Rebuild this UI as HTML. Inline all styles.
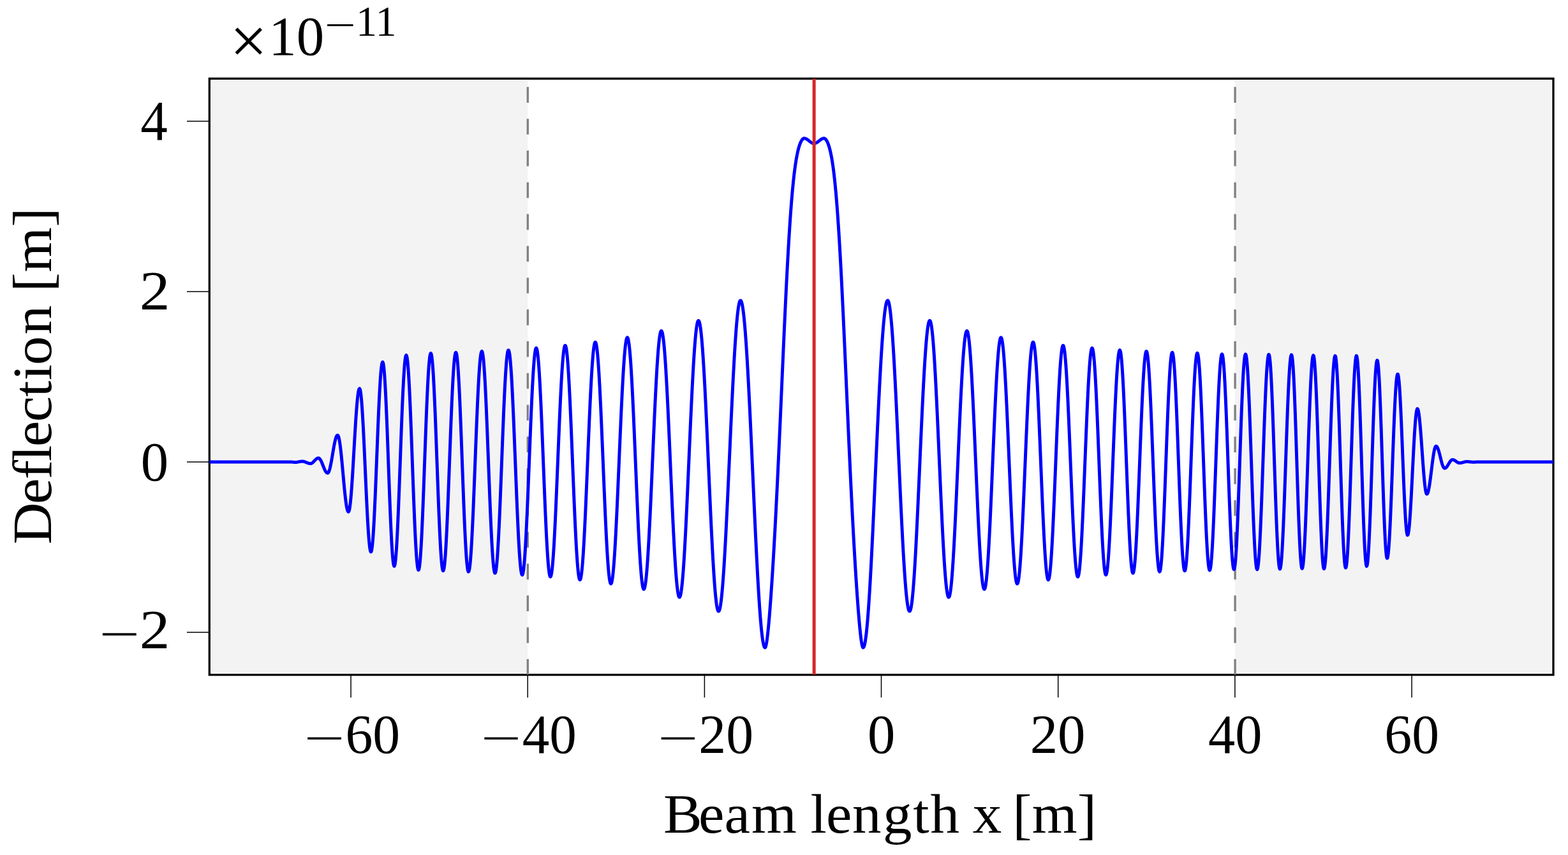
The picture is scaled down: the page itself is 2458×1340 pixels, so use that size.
<!DOCTYPE html>
<html><head><meta charset="utf-8"><title>Deflection</title>
<style>
html,body{margin:0;padding:0;background:#fff;}
body{width:2458px;height:1340px;overflow:hidden;}
svg{display:block;}
text{font-family:"Liberation Serif",serif;fill:#000;}
.nl{font-variant-ligatures:none;font-kerning:none;}
</style></head><body>
<svg width="2458" height="1340" viewBox="0 0 2458 1340">
<rect width="2458" height="1340" fill="#fff"/>
<defs><clipPath id="ax"><rect x="328.3" y="123.2" width="2106.7" height="934.4"/></clipPath></defs>
<rect x="331" y="126" width="496.2" height="929" fill="#f3f3f3"/>
<rect x="1936" y="126" width="496" height="929" fill="#f3f3f3"/>
<rect x="328.3" y="123.2" width="2106.7" height="934.4" fill="none" stroke="#000" stroke-width="3.33"/>
<path d="M550.05,1057.6 V1093.2" stroke="#000" stroke-width="1.5"/>
<path d="M827.2,1057.6 V1093.2" stroke="#000" stroke-width="1.5"/>
<path d="M1104.4,1057.6 V1093.2" stroke="#000" stroke-width="1.5"/>
<path d="M1381.5,1057.6 V1093.2" stroke="#000" stroke-width="1.5"/>
<path d="M1658.7,1057.6 V1093.2" stroke="#000" stroke-width="1.5"/>
<path d="M1935.9,1057.6 V1093.2" stroke="#000" stroke-width="1.5"/>
<path d="M2213.1,1057.6 V1093.2" stroke="#000" stroke-width="1.5"/>
<path d="M328.3,189.9 H293.0" stroke="#000" stroke-width="1.5"/>
<path d="M328.3,456.9 H293.0" stroke="#000" stroke-width="1.5"/>
<path d="M328.3,723.9 H293.0" stroke="#000" stroke-width="1.5"/>
<path d="M328.3,990.9 H293.0" stroke="#000" stroke-width="1.5"/>
<g clip-path="url(#ax)">
<path d="M827.3,1057.6 V123.2" stroke="#808080" stroke-width="3.33" stroke-dasharray="24.6 25.215" fill="none"/>
<path d="M1936.1,1057.6 V123.2" stroke="#808080" stroke-width="3.33" stroke-dasharray="24.6 25.215" fill="none"/>
<path d="M325.30,723.90 454.80,723.90 455.30,723.90 455.80,723.92 456.30,723.94 456.80,723.97 457.30,724.02 457.80,724.07 458.30,724.12 458.80,724.18 459.30,724.24 459.80,724.30 460.30,724.35 460.80,724.40 461.30,724.44 461.80,724.47 462.30,724.49 462.80,724.50 463.30,724.50 463.80,724.48 464.30,724.44 464.80,724.40 465.30,724.34 465.80,724.27 466.30,724.20 466.80,724.11 467.30,724.02 467.80,723.92 468.30,723.82 468.80,723.72 469.30,723.62 469.80,723.53 470.30,723.44 470.80,723.36 471.30,723.28 471.80,723.22 472.30,723.17 472.80,723.13 473.30,723.11 473.80,723.10 474.30,723.11 474.80,723.14 475.30,723.20 475.80,723.28 476.30,723.39 476.80,723.51 477.30,723.66 477.80,723.82 478.30,724.00 478.80,724.19 479.30,724.39 479.80,724.59 480.30,724.80 480.80,725.01 481.30,725.21 481.80,725.41 482.30,725.60 482.80,725.78 483.30,725.94 483.80,726.09 484.30,726.21 484.80,726.32 485.30,726.40 485.80,726.46 486.30,726.49 486.70,726.50 487.30,726.45 487.80,726.33 488.30,726.15 488.80,725.91 489.30,725.60 489.80,725.24 490.30,724.83 490.80,724.38 491.30,723.90 491.80,723.38 492.30,722.85 492.80,722.31 493.30,721.76 493.80,721.23 494.30,720.71 494.80,720.21 495.30,719.74 495.80,719.32 496.30,718.94 496.80,718.61 497.30,718.34 497.80,718.13 498.30,717.99 498.80,717.91 499.10,717.90 499.80,718.03 500.30,718.29 500.80,718.69 501.30,719.21 501.80,719.85 502.30,720.61 502.80,721.48 503.30,722.44 503.80,723.48 504.30,724.60 504.80,725.78 505.30,727.00 505.80,728.25 506.30,729.52 506.80,730.79 507.30,732.05 507.80,733.28 508.30,734.47 508.80,735.60 509.30,736.66 509.80,737.64 510.30,738.52 510.80,739.30 511.30,739.97 511.80,740.52 512.30,740.94 512.80,741.22 513.30,741.38 513.60,741.40 514.30,741.11 514.80,740.54 515.30,739.68 515.80,738.54 516.30,737.12 516.80,735.45 517.30,733.54 517.80,731.41 518.30,729.08 518.80,726.58 519.30,723.92 519.80,721.14 520.30,718.26 520.80,715.32 521.30,712.35 521.80,709.36 522.30,706.41 522.80,703.50 523.30,700.68 523.80,697.97 524.30,695.40 524.80,693.00 525.30,690.78 525.80,688.78 526.30,687.01 526.80,685.50 527.30,684.24 527.80,683.27 528.30,682.59 528.80,682.20 529.20,682.10 529.80,682.47 530.30,683.34 530.80,684.71 531.30,686.57 531.80,688.90 532.30,691.69 532.80,694.91 533.30,698.53 533.80,702.52 534.30,706.85 534.80,711.49 535.30,716.38 535.80,721.50 536.30,726.79 536.80,732.21 537.30,737.72 537.80,743.26 538.30,748.79 538.80,754.27 539.30,759.65 539.80,764.87 540.30,769.91 540.80,774.70 541.30,779.22 541.80,783.42 542.30,787.27 542.80,790.73 543.30,793.78 543.80,796.39 544.30,798.54 544.80,800.20 545.30,801.37 545.80,802.04 546.20,802.20 546.80,801.63 547.30,800.30 547.80,798.20 548.30,795.34 548.80,791.74 549.30,787.45 549.80,782.49 550.30,776.91 550.80,770.74 551.30,764.04 551.80,756.87 552.30,749.27 552.80,741.32 553.30,733.08 553.80,724.62 554.30,716.00 554.80,707.29 555.30,698.58 555.80,689.91 556.30,681.38 556.80,673.04 557.30,664.97 557.80,657.23 558.30,649.88 558.80,642.98 559.30,636.59 559.80,630.77 560.30,625.55 560.80,620.99 561.30,617.11 561.80,613.96 562.30,611.55 562.80,609.91 563.30,609.04 563.60,608.90 564.30,609.87 564.80,611.73 565.30,614.56 565.80,618.33 566.30,623.01 566.80,628.57 567.30,634.96 567.80,642.14 568.30,650.05 568.80,658.63 569.30,667.81 569.80,677.52 570.30,687.69 570.80,698.24 571.30,709.08 571.80,720.14 572.30,731.33 572.80,742.57 573.30,753.76 573.80,764.82 574.30,775.66 574.80,786.21 575.30,796.38 575.80,806.09 576.30,815.27 576.80,823.85 577.30,831.76 577.80,838.94 578.30,845.33 578.80,850.89 579.30,855.57 579.80,859.34 580.30,862.17 580.80,864.03 581.30,864.92 581.50,865.00 581.80,864.80 582.30,863.60 582.80,861.31 583.30,857.95 583.80,853.55 584.30,848.14 584.80,841.75 585.30,834.45 585.80,826.27 586.30,817.28 586.80,807.54 587.30,797.14 587.80,786.13 588.30,774.62 588.80,762.67 589.30,750.38 589.80,737.84 590.30,725.14 590.80,712.37 591.30,699.63 591.80,687.01 592.30,674.61 592.80,662.52 593.30,650.82 593.80,639.60 594.30,628.94 594.80,618.93 595.30,609.64 595.80,601.13 596.30,593.46 596.80,586.70 597.30,580.90 597.80,576.08 598.30,572.31 598.80,569.59 599.30,567.95 599.80,567.40 600.30,568.00 600.80,569.78 601.30,572.73 601.80,576.84 602.30,582.07 602.80,588.38 603.30,595.72 603.80,604.05 604.30,613.29 604.80,623.38 605.30,634.25 605.80,645.81 606.30,657.98 606.80,670.66 607.30,683.77 607.80,697.20 608.30,710.86 608.80,724.64 609.30,738.44 609.80,752.16 610.30,765.69 610.80,778.94 611.30,791.80 611.80,804.19 612.30,816.00 612.80,827.16 613.30,837.57 613.80,847.16 614.30,855.86 614.80,863.61 615.30,870.34 615.80,876.00 616.30,880.56 616.80,883.98 617.30,886.23 617.80,887.30 618.00,887.40 618.30,887.19 618.80,885.92 619.30,883.51 619.80,879.98 620.30,875.34 620.80,869.63 621.30,862.89 621.80,855.17 622.30,846.52 622.80,837.00 623.30,826.68 623.80,815.63 624.30,803.93 624.80,791.65 625.30,778.89 625.80,765.73 626.30,752.27 626.80,738.60 627.30,724.81 627.80,711.01 628.30,697.28 628.80,683.72 629.30,670.43 629.80,657.50 630.30,645.02 630.80,633.08 631.30,621.76 631.80,611.14 632.30,601.29 632.80,592.28 633.30,584.18 633.80,577.05 634.30,570.92 634.80,565.85 635.30,561.87 635.80,559.00 636.30,557.28 636.80,556.70 637.30,557.26 637.80,558.95 638.30,561.75 638.80,565.63 639.30,570.59 639.80,576.58 640.30,583.56 640.80,591.49 641.30,600.31 641.80,609.97 642.30,620.39 642.80,631.52 643.30,643.27 643.80,655.57 644.30,668.33 644.80,681.48 645.30,694.91 645.80,708.55 646.30,722.30 646.80,736.06 647.30,749.75 647.80,763.28 648.30,776.55 648.80,789.47 649.30,801.97 649.80,813.95 650.30,825.34 650.80,836.05 651.30,846.02 651.80,855.19 652.30,863.48 652.80,870.85 653.30,877.24 653.80,882.61 654.30,886.93 654.80,890.17 655.30,892.30 655.80,893.31 656.00,893.40 656.30,893.20 656.80,891.96 657.30,889.61 657.80,886.16 658.30,881.63 658.80,876.06 659.30,869.47 659.80,861.92 660.30,853.45 660.80,844.13 661.30,834.00 661.80,823.14 662.30,811.62 662.80,799.52 663.30,786.92 663.80,773.89 664.30,760.54 664.80,746.93 665.30,733.17 665.80,719.35 666.30,705.56 666.80,691.88 667.30,678.41 667.80,665.25 668.30,652.46 668.80,640.15 669.30,628.39 669.80,617.26 670.30,606.83 670.80,597.18 671.30,588.36 671.80,580.44 672.30,573.46 672.80,567.47 673.30,562.52 673.80,558.64 674.30,555.85 674.80,554.16 675.30,553.60 675.80,554.16 676.30,555.83 676.80,558.61 677.30,562.47 677.80,567.39 678.30,573.33 678.80,580.27 679.30,588.15 679.80,596.92 680.30,606.52 680.80,616.89 681.30,627.97 681.80,639.67 682.30,651.93 682.80,664.67 683.30,677.79 683.80,691.22 684.30,704.86 684.80,718.63 685.30,732.43 685.80,746.18 686.30,759.79 686.80,773.16 687.30,786.21 687.80,798.86 688.30,811.01 688.80,822.60 689.30,833.54 689.80,843.77 690.30,853.21 690.80,861.80 691.30,869.50 691.80,876.24 692.30,881.98 692.80,886.69 693.30,890.34 693.80,892.89 694.30,894.34 694.70,894.70 695.30,893.93 695.80,892.13 696.30,889.27 696.80,885.38 697.30,880.48 697.80,874.60 698.30,867.79 698.80,860.07 699.30,851.51 699.80,842.14 700.30,832.04 700.80,821.27 701.30,809.88 701.80,797.95 702.30,785.57 702.80,772.79 703.30,759.71 703.80,746.40 704.30,732.95 704.80,719.45 705.30,705.96 705.80,692.59 706.30,679.41 706.80,666.50 707.30,653.95 707.80,641.83 708.30,630.22 708.80,619.19 709.30,608.81 709.80,599.15 710.30,590.25 710.80,582.19 711.30,575.01 711.80,568.76 712.30,563.46 712.80,559.17 713.30,555.89 713.80,553.66 714.30,552.49 714.60,552.30 715.30,553.36 715.80,555.41 716.30,558.52 716.80,562.67 717.30,567.83 717.80,573.99 718.30,581.08 718.80,589.08 719.30,597.92 719.80,607.56 720.30,617.94 720.80,628.98 721.30,640.62 721.80,652.79 722.30,665.41 722.80,678.39 723.30,691.67 723.80,705.15 724.30,718.75 724.80,732.38 725.30,745.96 725.80,759.41 726.30,772.63 726.80,785.55 727.30,798.08 727.80,810.15 728.30,821.68 728.80,832.59 729.30,842.82 729.80,852.31 730.30,860.99 730.80,868.81 731.30,875.72 731.80,881.68 732.30,886.65 732.80,890.59 733.30,893.49 733.80,895.32 734.30,896.08 734.80,895.79 735.30,894.52 735.80,892.29 736.30,889.10 736.80,884.98 737.30,879.94 737.80,874.02 738.30,867.25 738.80,859.66 739.30,851.31 739.80,842.23 740.30,832.48 740.80,822.12 741.30,811.20 741.80,799.78 742.30,787.92 742.80,775.71 743.30,763.20 743.80,750.46 744.30,737.57 744.80,724.60 745.30,711.62 745.80,698.71 746.30,685.93 746.80,673.37 747.30,661.09 747.80,649.16 748.30,637.65 748.80,626.62 749.30,616.14 749.80,606.27 750.30,597.05 750.80,588.55 751.30,580.81 751.80,573.87 752.30,567.77 752.80,562.56 753.30,558.25 753.80,554.87 754.30,552.45 754.80,550.99 755.30,550.50 755.80,551.00 756.30,552.50 756.80,554.99 757.30,558.45 757.80,562.87 758.30,568.22 758.80,574.46 759.30,581.57 759.80,589.50 760.30,598.21 760.80,607.65 761.30,617.75 761.80,628.47 762.30,639.75 762.80,651.51 763.30,663.68 763.80,676.21 764.30,689.02 764.80,702.03 765.30,715.17 765.80,728.36 766.30,741.53 766.80,754.60 767.30,767.49 767.80,780.14 768.30,792.47 768.80,804.41 769.30,815.88 769.80,826.83 770.30,837.19 770.80,846.90 771.30,855.90 771.80,864.15 772.30,871.60 772.80,878.19 773.30,883.90 773.80,888.70 774.30,892.54 774.80,895.42 775.30,897.32 775.80,898.22 776.00,898.30 776.30,898.12 776.80,897.05 777.30,895.00 777.80,892.00 778.30,888.05 778.80,883.19 779.30,877.43 779.80,870.81 780.30,863.36 780.80,855.14 781.30,846.17 781.80,836.53 782.30,826.24 782.80,815.39 783.30,804.02 783.80,792.20 784.30,780.00 784.80,767.48 785.30,754.71 785.80,741.77 786.30,728.73 786.80,715.66 787.30,702.63 787.80,689.72 788.30,677.00 788.80,664.53 789.30,652.40 789.80,640.67 790.30,629.40 790.80,618.65 791.30,608.49 791.80,598.98 792.30,590.16 792.80,582.08 793.30,574.80 793.80,568.35 794.30,562.77 794.80,558.08 795.30,554.32 795.80,551.51 796.30,549.66 796.80,548.78 797.00,548.70 797.30,548.87 797.80,549.89 798.30,551.84 798.80,554.70 799.30,558.47 799.80,563.11 800.30,568.61 800.80,574.93 801.30,582.05 801.80,589.92 802.30,598.51 802.80,607.76 803.30,617.64 803.80,628.08 804.30,639.03 804.80,650.43 805.30,662.23 805.80,674.37 806.30,686.76 806.80,699.36 807.30,712.10 807.80,724.90 808.30,737.70 808.80,750.44 809.30,763.04 809.80,775.43 810.30,787.57 810.80,799.37 811.30,810.77 811.80,821.72 812.30,832.16 812.80,842.04 813.30,851.29 813.80,859.88 814.30,867.75 814.80,874.87 815.30,881.19 815.80,886.69 816.30,891.33 816.80,895.10 817.30,897.96 817.80,899.91 818.30,900.93 818.60,901.10 819.30,900.21 819.80,898.50 820.30,895.89 820.80,892.40 821.30,888.04 821.80,882.85 822.30,876.85 822.80,870.06 823.30,862.52 823.80,854.28 824.30,845.37 824.80,835.83 825.30,825.72 825.80,815.09 826.30,803.99 826.80,792.48 827.30,780.62 827.80,768.46 828.30,756.08 828.80,743.52 829.30,730.87 829.80,718.17 830.30,705.50 830.80,692.92 831.30,680.50 831.80,668.29 832.30,656.36 832.80,644.78 833.30,633.59 833.80,622.86 834.30,612.65 834.80,602.99 835.30,593.95 835.80,585.57 836.30,577.89 836.80,570.95 837.30,564.78 837.80,559.43 838.30,554.91 838.80,551.24 839.30,548.46 839.80,546.56 840.30,545.56 840.60,545.40 841.30,546.28 841.80,547.98 842.30,550.56 842.80,554.02 843.30,558.33 843.80,563.47 844.30,569.42 844.80,576.15 845.30,583.62 845.80,591.79 846.30,600.64 846.80,610.10 847.30,620.13 847.80,630.69 848.30,641.72 848.80,653.17 849.30,664.97 849.80,677.07 850.30,689.41 850.80,701.93 851.30,714.56 851.80,727.24 852.30,739.91 852.80,752.50 853.30,764.95 853.80,777.20 854.30,789.19 854.80,800.86 855.30,812.14 855.80,822.99 856.30,833.35 856.80,843.16 857.30,852.38 857.80,860.96 858.30,868.86 858.80,876.03 859.30,882.45 859.80,888.08 860.30,892.90 860.80,896.87 861.30,899.98 861.80,902.21 862.30,903.55 862.80,904.00 863.30,903.58 863.80,902.34 864.30,900.27 864.80,897.39 865.30,893.71 865.80,889.24 866.30,884.02 866.80,878.05 867.30,871.37 867.80,864.01 868.30,856.00 868.80,847.38 869.30,838.19 869.80,828.47 870.30,818.26 870.80,807.62 871.30,796.59 871.80,785.22 872.30,773.56 872.80,761.67 873.30,749.61 873.80,737.41 874.30,725.15 874.80,712.88 875.30,700.66 875.80,688.53 876.30,676.57 876.80,664.81 877.30,653.32 877.80,642.15 878.30,631.34 878.80,620.96 879.30,611.04 879.80,601.63 880.30,592.78 880.80,584.52 881.30,576.90 881.80,569.94 882.30,563.68 882.80,558.16 883.30,553.38 883.80,549.39 884.30,546.18 884.80,543.79 885.30,542.21 885.80,541.47 886.00,541.40 886.30,541.55 886.80,542.49 887.30,544.26 887.80,546.88 888.30,550.31 888.80,554.56 889.30,559.59 889.80,565.39 890.30,571.93 890.80,579.17 891.30,587.09 891.80,595.65 892.30,604.80 892.80,614.51 893.30,624.74 893.80,635.42 894.30,646.52 894.80,657.99 895.30,669.76 895.80,681.79 896.30,694.02 896.80,706.40 897.30,718.86 897.80,731.34 898.30,743.80 898.80,756.18 899.30,768.41 899.80,780.44 900.30,792.21 900.80,803.68 901.30,814.78 901.80,825.46 902.30,835.69 902.80,845.40 903.30,854.55 903.80,863.11 904.30,871.03 904.80,878.27 905.30,884.81 905.80,890.61 906.30,895.64 906.80,899.89 907.30,903.32 907.80,905.94 908.30,907.71 908.80,908.65 909.10,908.80 909.80,908.02 910.30,906.53 910.80,904.24 911.30,901.19 911.80,897.38 912.30,892.82 912.80,887.55 913.30,881.57 913.80,874.91 914.30,867.61 914.80,859.70 915.30,851.19 915.80,842.15 916.30,832.59 916.80,822.57 917.30,812.12 917.80,801.29 918.30,790.13 918.80,778.68 919.30,766.99 919.80,755.12 920.30,743.10 920.80,731.00 921.30,718.86 921.80,706.73 922.30,694.68 922.80,682.74 923.30,670.97 923.80,659.42 924.30,648.13 924.80,637.17 925.30,626.56 925.80,616.36 926.30,606.62 926.80,597.36 927.30,588.64 927.80,580.48 928.30,572.93 928.80,566.01 929.30,559.76 929.80,554.20 930.30,549.35 930.80,545.24 931.30,541.89 931.80,539.29 932.30,537.48 932.80,536.45 933.20,536.20 933.80,536.76 934.30,538.10 934.80,540.20 935.30,543.08 935.80,546.71 936.30,551.09 936.80,556.18 937.30,561.98 937.80,568.46 938.30,575.59 938.80,583.34 939.30,591.67 939.80,600.57 940.30,609.98 940.80,619.87 941.30,630.20 941.80,640.92 942.30,651.99 942.80,663.37 943.30,675.01 943.80,686.86 944.30,698.87 944.80,710.98 945.30,723.16 945.80,735.35 946.30,747.50 946.80,759.56 947.30,771.47 947.80,783.20 948.30,794.69 948.80,805.89 949.30,816.76 949.80,827.25 950.30,837.32 950.80,846.93 951.30,856.03 951.80,864.60 952.30,872.59 952.80,879.97 953.30,886.71 953.80,892.78 954.30,898.16 954.80,902.82 955.30,906.76 955.80,909.94 956.30,912.35 956.80,914.00 957.30,914.86 957.60,915.00 958.30,914.30 958.80,912.94 959.30,910.88 959.80,908.11 960.30,904.66 960.80,900.53 961.30,895.74 961.80,890.30 962.30,884.24 962.80,877.58 963.30,870.34 963.80,862.55 964.30,854.24 964.80,845.44 965.30,836.18 965.80,826.50 966.30,816.43 966.80,806.01 967.30,795.28 967.80,784.28 968.30,773.05 968.80,761.63 969.30,750.06 969.80,738.39 970.30,726.65 970.80,714.90 971.30,703.17 971.80,691.52 972.30,679.98 972.80,668.59 973.30,657.40 973.80,646.45 974.30,635.78 974.80,625.43 975.30,615.43 975.80,605.83 976.30,596.66 976.80,587.96 977.30,579.75 977.80,572.07 978.30,564.94 978.80,558.40 979.30,552.46 979.80,547.15 980.30,542.49 980.80,538.49 981.30,535.18 981.80,532.55 982.30,530.63 982.80,529.42 983.30,528.91 983.80,529.13 984.30,530.08 984.80,531.76 985.30,534.16 985.80,537.27 986.30,541.07 986.80,545.57 987.30,550.73 987.80,556.55 988.30,562.99 988.80,570.04 989.30,577.66 989.80,585.84 990.30,594.54 990.80,603.72 991.30,613.36 991.80,623.42 992.30,633.86 992.80,644.64 993.30,655.72 993.80,667.06 994.30,678.62 994.80,690.36 995.30,702.23 995.80,714.20 996.30,726.20 996.80,738.20 997.30,750.17 997.80,762.04 998.30,773.78 998.80,785.34 999.30,796.68 999.80,807.76 1000.30,818.54 1000.80,828.98 1001.30,839.04 1001.80,848.68 1002.30,857.86 1002.80,866.56 1003.30,874.74 1003.80,882.36 1004.30,889.41 1004.80,895.85 1005.30,901.67 1005.80,906.83 1006.30,911.33 1006.80,915.13 1007.30,918.24 1007.80,920.64 1008.30,922.32 1008.80,923.27 1009.20,923.50 1009.80,923.02 1010.30,921.90 1010.80,920.13 1011.30,917.70 1011.80,914.63 1012.30,910.93 1012.80,906.61 1013.30,901.69 1013.80,896.18 1014.30,890.09 1014.80,883.46 1015.30,876.29 1015.80,868.62 1016.30,860.46 1016.80,851.85 1017.30,842.82 1017.80,833.38 1018.30,823.58 1018.80,813.45 1019.30,803.01 1019.80,792.31 1020.30,781.37 1020.80,770.24 1021.30,758.94 1021.80,747.53 1022.30,736.02 1022.80,724.47 1023.30,712.91 1023.80,701.37 1024.30,689.89 1024.80,678.52 1025.30,667.29 1025.80,656.23 1026.30,645.38 1026.80,634.78 1027.30,624.46 1027.80,614.46 1028.30,604.80 1028.80,595.52 1029.30,586.65 1029.80,578.22 1030.30,570.26 1030.80,562.78 1031.30,555.83 1031.80,549.41 1032.30,543.55 1032.80,538.27 1033.30,533.58 1033.80,529.51 1034.30,526.06 1034.80,523.25 1035.30,521.08 1035.80,519.57 1036.30,518.71 1036.70,518.50 1037.30,518.96 1037.80,520.04 1038.30,521.76 1038.80,524.11 1039.30,527.08 1039.80,530.66 1040.30,534.84 1040.80,539.61 1041.30,544.95 1041.80,550.86 1042.30,557.30 1042.80,564.26 1043.30,571.72 1043.80,579.66 1044.30,588.04 1044.80,596.86 1045.30,606.07 1045.80,615.65 1046.30,625.58 1046.80,635.81 1047.30,646.33 1047.80,657.09 1048.30,668.07 1048.80,679.23 1049.30,690.54 1049.80,701.96 1050.30,713.45 1050.80,724.99 1051.30,736.54 1051.80,748.05 1052.30,759.51 1052.80,770.86 1053.30,782.08 1053.80,793.14 1054.30,803.99 1054.80,814.61 1055.30,824.96 1055.80,835.02 1056.30,844.74 1056.80,854.10 1057.30,863.08 1057.80,871.64 1058.30,879.76 1058.80,887.41 1059.30,894.58 1059.80,901.23 1060.30,907.35 1060.80,912.92 1061.30,917.92 1061.80,922.34 1062.30,926.16 1062.80,929.38 1063.30,931.97 1063.80,933.94 1064.30,935.28 1064.80,935.99 1065.10,936.10 1065.30,936.05 1065.80,935.51 1066.30,934.37 1066.80,932.63 1067.30,930.29 1067.80,927.37 1068.30,923.88 1068.80,919.81 1069.30,915.19 1069.80,910.02 1070.30,904.32 1070.80,898.11 1071.30,891.40 1071.80,884.22 1072.30,876.57 1072.80,868.49 1073.30,860.00 1073.80,851.11 1074.30,841.86 1074.80,832.26 1075.30,822.35 1075.80,812.16 1076.30,801.71 1076.80,791.03 1077.30,780.14 1077.80,769.09 1078.30,757.91 1078.80,746.61 1079.30,735.24 1079.80,723.82 1080.30,712.39 1080.80,700.98 1081.30,689.62 1081.80,678.35 1082.30,667.18 1082.80,656.17 1083.30,645.32 1083.80,634.68 1084.30,624.28 1084.80,614.14 1085.30,604.29 1085.80,594.77 1086.30,585.58 1086.80,576.77 1087.30,568.36 1087.80,560.36 1088.30,552.81 1088.80,545.71 1089.30,539.10 1089.80,532.99 1090.30,527.40 1090.80,522.34 1091.30,517.83 1091.80,513.88 1092.30,510.50 1092.80,507.69 1093.30,505.48 1093.80,503.86 1094.30,502.83 1094.80,502.41 1095.30,502.58 1095.80,503.32 1096.30,504.62 1096.80,506.48 1097.30,508.90 1097.80,511.86 1098.30,515.37 1098.80,519.42 1099.30,523.99 1099.80,529.07 1100.30,534.65 1100.80,540.72 1101.30,547.26 1101.80,554.25 1102.30,561.69 1102.80,569.54 1103.30,577.79 1103.80,586.42 1104.30,595.41 1104.80,604.73 1105.30,614.36 1105.80,624.29 1106.30,634.47 1106.80,644.90 1107.30,655.53 1107.80,666.35 1108.30,677.34 1108.80,688.45 1109.30,699.66 1109.80,710.96 1110.30,722.30 1110.80,733.66 1111.30,745.01 1111.80,756.33 1112.30,767.58 1112.80,778.73 1113.30,789.77 1113.80,800.66 1114.30,811.37 1114.80,821.89 1115.30,832.17 1115.80,842.20 1116.30,851.95 1116.80,861.40 1117.30,870.53 1117.80,879.30 1118.30,887.71 1118.80,895.72 1119.30,903.32 1119.80,910.50 1120.30,917.22 1120.80,923.48 1121.30,929.26 1121.80,934.54 1122.30,939.32 1122.80,943.57 1123.30,947.30 1123.80,950.48 1124.30,953.12 1124.80,955.21 1125.30,956.73 1125.80,957.69 1126.30,958.09 1126.80,957.94 1127.30,957.28 1127.80,956.11 1128.30,954.44 1128.80,952.27 1129.30,949.61 1129.80,946.45 1130.30,942.81 1130.80,938.70 1131.30,934.11 1131.80,929.07 1132.30,923.59 1132.80,917.66 1133.30,911.31 1133.80,904.56 1134.30,897.40 1134.80,889.87 1135.30,881.97 1135.80,873.72 1136.30,865.14 1136.80,856.24 1137.30,847.05 1137.80,837.58 1138.30,827.86 1138.80,817.90 1139.30,807.72 1139.80,797.35 1140.30,786.81 1140.80,776.11 1141.30,765.29 1141.80,754.36 1142.30,743.35 1142.80,732.28 1143.30,721.17 1143.80,710.05 1144.30,698.94 1144.80,687.86 1145.30,676.83 1145.80,665.89 1146.30,655.04 1146.80,644.32 1147.30,633.74 1147.80,623.34 1148.30,613.12 1148.80,603.12 1149.30,593.34 1149.80,583.82 1150.30,574.57 1150.80,565.62 1151.30,556.97 1151.80,548.65 1152.30,540.68 1152.80,533.07 1153.30,525.84 1153.80,519.00 1154.30,512.57 1154.80,506.56 1155.30,500.99 1155.80,495.86 1156.30,491.18 1156.80,486.97 1157.30,483.24 1157.80,479.99 1158.30,477.22 1158.80,474.95 1159.30,473.18 1159.80,471.92 1160.30,471.15 1160.80,470.90 1161.30,471.13 1161.80,471.81 1162.30,472.94 1162.80,474.52 1163.30,476.56 1163.80,479.03 1164.30,481.95 1164.80,485.30 1165.30,489.08 1165.80,493.29 1166.30,497.91 1166.80,502.94 1167.30,508.37 1167.80,514.20 1168.30,520.40 1168.80,526.98 1169.30,533.91 1169.80,541.20 1170.30,548.82 1170.80,556.77 1171.30,565.02 1171.80,573.58 1172.30,582.41 1172.80,591.52 1173.30,600.88 1173.80,610.47 1174.30,620.28 1174.80,630.30 1175.30,640.51 1175.80,650.89 1176.30,661.42 1176.80,672.09 1177.30,682.88 1177.80,693.76 1178.30,704.73 1178.80,715.77 1179.30,726.84 1179.80,737.95 1180.30,749.06 1180.80,760.17 1181.30,771.24 1181.80,782.27 1182.30,793.23 1182.80,804.11 1183.30,814.88 1183.80,825.54 1184.30,836.05 1184.80,846.42 1185.30,856.61 1185.80,866.61 1186.30,876.40 1186.80,885.97 1187.30,895.30 1187.80,904.38 1188.30,913.19 1188.80,921.71 1189.30,929.94 1189.80,937.86 1190.30,945.44 1190.80,952.70 1191.30,959.60 1191.80,966.14 1192.30,972.30 1192.80,978.09 1193.30,983.48 1193.80,988.47 1194.30,993.05 1194.80,997.21 1195.30,1000.95 1195.80,1004.26 1196.30,1007.14 1196.80,1009.57 1197.30,1011.55 1197.80,1013.09 1198.30,1014.18 1198.80,1014.82 1199.25,1015.00 1199.80,1014.55 1200.30,1013.40 1200.80,1011.62 1201.30,1009.27 1201.80,1006.39 1202.30,1003.04 1202.80,999.25 1203.30,995.07 1203.80,990.52 1204.30,985.64 1204.80,980.45 1205.30,974.98 1205.80,969.24 1206.30,963.24 1206.80,957.01 1207.30,950.56 1207.80,943.89 1208.30,937.02 1208.80,929.95 1209.30,922.69 1209.80,915.24 1210.30,907.61 1210.80,899.80 1211.30,891.82 1211.80,883.66 1212.30,875.33 1212.80,866.82 1213.30,858.15 1213.80,849.32 1214.30,840.32 1214.80,831.15 1215.30,821.83 1215.80,812.35 1216.30,802.71 1216.80,792.92 1217.30,782.98 1217.80,772.90 1218.30,762.68 1218.80,752.33 1219.30,741.85 1219.80,731.25 1220.30,720.53 1220.80,709.71 1221.30,698.79 1221.80,687.78 1222.30,676.69 1222.80,665.53 1223.30,654.30 1223.80,643.03 1224.30,631.73 1224.80,620.39 1225.30,609.04 1225.80,597.70 1226.30,586.36 1226.80,575.05 1227.30,563.77 1227.80,552.55 1228.30,541.39 1228.80,530.30 1229.30,519.31 1229.80,508.42 1230.30,497.65 1230.80,487.00 1231.30,476.50 1231.80,466.15 1232.30,455.96 1232.80,445.95 1233.30,436.12 1233.80,426.48 1234.30,417.05 1234.80,407.83 1235.30,398.83 1235.80,390.06 1236.30,381.52 1236.80,373.21 1237.30,365.15 1237.80,357.34 1238.30,349.77 1238.80,342.45 1239.30,335.39 1239.80,328.58 1240.30,322.02 1240.80,315.72 1241.30,309.67 1241.80,303.86 1242.30,298.31 1242.80,292.99 1243.30,287.91 1243.80,283.07 1244.30,278.46 1244.80,274.08 1245.30,269.91 1245.80,265.95 1246.30,262.21 1246.80,258.66 1247.30,255.31 1247.80,252.14 1248.30,249.15 1248.80,246.34 1249.30,243.69 1249.80,241.20 1250.30,238.87 1250.80,236.68 1251.30,234.63 1251.80,232.72 1252.30,230.93 1252.80,229.27 1253.30,227.72 1253.80,226.29 1254.30,224.96 1254.80,223.74 1255.30,222.62 1255.80,221.60 1256.30,220.67 1256.80,219.84 1257.30,219.11 1257.80,218.47 1258.30,217.93 1258.80,217.49 1259.30,217.15 1259.80,216.92 1260.30,216.81 1260.50,216.80 1260.80,216.81 1261.30,216.85 1261.80,216.94 1262.30,217.06 1262.80,217.22 1263.30,217.42 1263.80,217.65 1264.30,217.91 1264.80,218.20 1265.30,218.52 1265.80,218.86 1266.30,219.22 1266.80,219.59 1267.30,219.98 1267.80,220.38 1268.30,220.78 1268.80,221.18 1269.30,221.58 1269.80,221.97 1270.30,222.34 1270.80,222.71 1271.30,223.05 1271.80,223.37 1272.30,223.66 1272.80,223.93 1273.30,224.16 1273.80,224.36 1274.30,224.53 1274.80,224.65 1275.30,224.74 1275.80,224.79 1276.15,224.80 1276.80,224.77 1277.30,224.69 1277.80,224.58 1278.30,224.43 1278.80,224.25 1279.30,224.03 1279.80,223.77 1280.30,223.49 1280.80,223.18 1281.30,222.85 1281.80,222.49 1282.30,222.12 1282.80,221.73 1283.30,221.34 1283.80,220.94 1284.30,220.54 1284.80,220.14 1285.30,219.75 1285.80,219.37 1286.30,219.00 1286.80,218.65 1287.30,218.32 1287.80,218.02 1288.30,217.75 1288.80,217.50 1289.30,217.29 1289.80,217.12 1290.30,216.98 1290.80,216.88 1291.30,216.82 1291.80,216.80 1292.30,216.86 1292.80,217.04 1293.30,217.34 1293.80,217.74 1294.30,218.24 1294.80,218.84 1295.30,219.54 1295.80,220.33 1296.30,221.21 1296.80,222.20 1297.30,223.28 1297.80,224.46 1298.30,225.74 1298.80,227.13 1299.30,228.64 1299.80,230.25 1300.30,231.99 1300.80,233.85 1301.30,235.85 1301.80,237.98 1302.30,240.25 1302.80,242.68 1303.30,245.26 1303.80,248.01 1304.30,250.92 1304.80,254.02 1305.30,257.29 1305.80,260.76 1306.30,264.43 1306.80,268.30 1307.30,272.38 1307.80,276.68 1308.30,281.20 1308.80,285.95 1309.30,290.93 1309.80,296.15 1310.30,301.61 1310.80,307.32 1311.30,313.27 1311.80,319.47 1312.30,325.93 1312.80,332.64 1313.30,339.60 1313.80,346.81 1314.30,354.28 1314.80,362.00 1315.30,369.96 1315.80,378.17 1316.30,386.61 1316.80,395.30 1317.30,404.21 1317.80,413.34 1318.30,422.69 1318.80,432.24 1319.30,441.99 1319.80,451.93 1320.30,462.05 1320.80,472.34 1321.30,482.79 1321.80,493.38 1322.30,504.10 1322.80,514.94 1323.30,525.90 1323.80,536.94 1324.30,548.08 1324.80,559.28 1325.30,570.53 1325.80,581.83 1326.30,593.16 1326.80,604.50 1327.30,615.85 1327.80,627.19 1328.30,638.51 1328.80,649.80 1329.30,661.04 1329.80,672.23 1330.30,683.35 1330.80,694.39 1331.30,705.35 1331.80,716.22 1332.30,726.98 1332.80,737.62 1333.30,748.15 1333.80,758.56 1334.30,768.83 1334.80,778.97 1335.30,788.96 1335.80,798.81 1336.30,808.51 1336.80,818.05 1337.30,827.44 1337.80,836.67 1338.30,845.74 1338.80,854.64 1339.30,863.38 1339.80,871.94 1340.30,880.35 1340.80,888.57 1341.30,896.63 1341.80,904.51 1342.30,912.21 1342.80,919.73 1343.30,927.07 1343.80,934.22 1344.30,941.17 1344.80,947.92 1345.30,954.46 1345.80,960.78 1346.30,966.87 1346.80,972.71 1347.30,978.30 1347.80,983.60 1348.30,988.61 1348.80,993.29 1349.30,997.62 1349.80,1001.57 1350.30,1005.10 1350.80,1008.17 1351.30,1010.74 1351.80,1012.76 1352.30,1014.17 1352.80,1014.90 1353.05,1015.00 1353.30,1014.94 1353.80,1014.49 1354.30,1013.58 1354.80,1012.22 1355.30,1010.42 1355.80,1008.16 1356.30,1005.46 1356.80,1002.33 1357.30,998.76 1357.80,994.77 1358.30,990.35 1358.80,985.52 1359.30,980.29 1359.80,974.66 1360.30,968.65 1360.80,962.26 1361.30,955.50 1361.80,948.39 1362.30,940.93 1362.80,933.15 1363.30,925.04 1363.80,916.64 1364.30,907.94 1364.80,898.97 1365.30,889.73 1365.80,880.26 1366.30,870.55 1366.80,860.63 1367.30,850.51 1367.80,840.22 1368.30,829.76 1368.80,819.16 1369.30,808.43 1369.80,797.59 1370.30,786.66 1370.80,775.66 1371.30,764.60 1371.80,753.51 1372.30,742.39 1372.80,731.28 1373.30,720.19 1373.80,709.14 1374.30,698.14 1374.80,687.22 1375.30,676.39 1375.80,665.67 1376.30,655.09 1376.80,644.64 1377.30,634.37 1377.80,624.27 1378.30,614.37 1378.80,604.69 1379.30,595.23 1379.80,586.02 1380.30,577.08 1380.80,568.41 1381.30,560.03 1381.80,551.96 1382.30,544.21 1382.80,536.79 1383.30,529.71 1383.80,522.99 1384.30,516.63 1384.80,510.66 1385.30,505.07 1385.80,499.87 1386.30,495.09 1386.80,490.71 1387.30,486.76 1387.80,483.24 1388.30,480.15 1388.80,477.49 1389.30,475.28 1389.80,473.52 1390.30,472.21 1390.80,471.34 1391.30,470.94 1391.50,470.90 1391.80,470.99 1392.30,471.55 1392.80,472.61 1393.30,474.18 1393.80,476.25 1394.30,478.82 1394.80,481.88 1395.30,485.42 1395.80,489.44 1396.30,493.93 1396.80,498.88 1397.30,504.28 1397.80,510.12 1398.30,516.38 1398.80,523.06 1399.30,530.13 1399.80,537.59 1400.30,545.42 1400.80,553.60 1401.30,562.12 1401.80,570.96 1402.30,580.09 1402.80,589.50 1403.30,599.18 1403.80,609.09 1404.30,619.23 1404.80,629.56 1405.30,640.07 1405.80,650.74 1406.30,661.53 1406.80,672.44 1407.30,683.44 1407.80,694.50 1408.30,705.60 1408.80,716.72 1409.30,727.84 1409.80,738.93 1410.30,749.97 1410.80,760.93 1411.30,771.80 1411.80,782.55 1412.30,793.15 1412.80,803.60 1413.30,813.85 1413.80,823.90 1414.30,833.72 1414.80,843.29 1415.30,852.60 1415.80,861.61 1416.30,870.32 1416.80,878.71 1417.30,886.75 1417.80,894.43 1418.30,901.74 1418.80,908.66 1419.30,915.17 1419.80,921.27 1420.30,926.93 1420.80,932.15 1421.30,936.92 1421.80,941.22 1422.30,945.05 1422.80,948.40 1423.30,951.27 1423.80,953.63 1424.30,955.50 1424.80,956.87 1425.30,957.73 1425.80,958.09 1426.30,957.92 1426.80,957.19 1427.30,955.90 1427.80,954.05 1428.30,951.64 1428.80,948.70 1429.30,945.21 1429.80,941.19 1430.30,936.65 1430.80,931.59 1431.30,926.05 1431.80,920.01 1432.30,913.51 1432.80,906.56 1433.30,899.17 1433.80,891.36 1434.30,883.16 1434.80,874.58 1435.30,865.64 1435.80,856.37 1436.30,846.78 1436.80,836.91 1437.30,826.77 1437.80,816.40 1438.30,805.81 1438.80,795.04 1439.30,784.10 1439.80,773.03 1440.30,761.86 1440.80,750.61 1441.30,739.31 1441.80,727.98 1442.30,716.67 1442.80,705.38 1443.30,694.16 1443.80,683.03 1444.30,672.01 1444.80,661.13 1445.30,650.43 1445.80,639.93 1446.30,629.64 1446.80,619.61 1447.30,609.85 1447.80,600.39 1448.30,591.24 1448.80,582.45 1449.30,574.01 1449.80,565.96 1450.30,558.32 1450.80,551.11 1451.30,544.33 1451.80,538.02 1452.30,532.18 1452.80,526.82 1453.30,521.98 1453.80,517.64 1454.30,513.83 1454.80,510.56 1455.30,507.83 1455.80,505.65 1456.30,504.02 1456.80,502.95 1457.30,502.45 1457.50,502.40 1457.80,502.51 1458.30,503.18 1458.80,504.45 1459.30,506.32 1459.80,508.79 1460.30,511.84 1460.80,515.48 1461.30,519.68 1461.80,524.45 1462.30,529.76 1462.80,535.59 1463.30,541.95 1463.80,548.79 1464.30,556.12 1464.80,563.90 1465.30,572.12 1465.80,580.74 1466.30,589.76 1466.80,599.13 1467.30,608.84 1467.80,618.87 1468.30,629.17 1468.80,639.72 1469.30,650.50 1469.80,661.47 1470.30,672.60 1470.80,683.86 1471.30,695.21 1471.80,706.64 1472.30,718.10 1472.80,729.57 1473.30,741.00 1473.80,752.38 1474.30,763.66 1474.80,774.82 1475.30,785.82 1475.80,796.64 1476.30,807.24 1476.80,817.60 1477.30,827.67 1477.80,837.45 1478.30,846.90 1478.80,855.99 1479.30,864.69 1479.80,872.99 1480.30,880.86 1480.80,888.28 1481.30,895.22 1481.80,901.68 1482.30,907.62 1482.80,913.03 1483.30,917.91 1483.80,922.23 1484.30,925.98 1484.80,929.15 1485.30,931.74 1485.80,933.73 1486.30,935.12 1486.80,935.91 1487.20,936.10 1487.80,935.64 1488.30,934.57 1488.80,932.86 1489.30,930.53 1489.80,927.58 1490.30,924.03 1490.80,919.87 1491.30,915.14 1491.80,909.83 1492.30,903.96 1492.80,897.57 1493.30,890.65 1493.80,883.24 1494.30,875.35 1494.80,867.01 1495.30,858.25 1495.80,849.10 1496.30,839.57 1496.80,829.70 1497.30,819.52 1497.80,809.06 1498.30,798.35 1498.80,787.43 1499.30,776.32 1499.80,765.07 1500.30,753.70 1500.80,742.25 1501.30,730.75 1501.80,719.25 1502.30,707.76 1502.80,696.34 1503.30,685.01 1503.80,673.81 1504.30,662.78 1504.80,651.94 1505.30,641.32 1505.80,630.97 1506.30,620.91 1506.80,611.18 1507.30,601.79 1507.80,592.79 1508.30,584.20 1508.80,576.04 1509.30,568.34 1509.80,561.12 1510.30,554.41 1510.80,548.22 1511.30,542.58 1511.80,537.50 1512.30,532.99 1512.80,529.08 1513.30,525.76 1513.80,523.06 1514.30,520.98 1514.80,519.53 1515.30,518.70 1515.70,518.50 1516.30,518.98 1516.80,520.12 1517.30,521.92 1517.80,524.38 1518.30,527.50 1518.80,531.25 1519.30,535.63 1519.80,540.62 1520.30,546.22 1520.80,552.39 1521.30,559.11 1521.80,566.38 1522.30,574.15 1522.80,582.41 1523.30,591.13 1523.80,600.28 1524.30,609.83 1524.80,619.75 1525.30,630.00 1525.80,640.56 1526.30,651.38 1526.80,662.43 1527.30,673.67 1527.80,685.07 1528.30,696.59 1528.80,708.19 1529.30,719.83 1529.80,731.48 1530.30,743.09 1530.80,754.63 1531.30,766.06 1531.80,777.34 1532.30,788.43 1532.80,799.30 1533.30,809.91 1533.80,820.23 1534.30,830.21 1534.80,839.84 1535.30,849.07 1535.80,857.88 1536.30,866.23 1536.80,874.11 1537.30,881.48 1537.80,888.31 1538.30,894.60 1538.80,900.30 1539.30,905.42 1539.80,909.92 1540.30,913.80 1540.80,917.05 1541.30,919.64 1541.80,921.57 1542.30,922.84 1542.80,923.45 1543.00,923.50 1543.30,923.37 1543.80,922.59 1544.30,921.09 1544.80,918.89 1545.30,915.99 1545.80,912.40 1546.30,908.14 1546.80,903.22 1547.30,897.66 1547.80,891.48 1548.30,884.69 1548.80,877.34 1549.30,869.44 1549.80,861.02 1550.30,852.11 1550.80,842.75 1551.30,832.96 1551.80,822.79 1552.30,812.26 1552.80,801.43 1553.30,790.32 1553.80,778.98 1554.30,767.45 1554.80,755.77 1555.30,743.99 1555.80,732.14 1556.30,720.26 1556.80,708.41 1557.30,696.63 1557.80,684.95 1558.30,673.42 1558.80,662.08 1559.30,650.97 1559.80,640.14 1560.30,629.61 1560.80,619.44 1561.30,609.65 1561.80,600.29 1562.30,591.38 1562.80,582.96 1563.30,575.06 1563.80,567.71 1564.30,560.92 1564.80,554.74 1565.30,549.18 1565.80,544.26 1566.30,540.00 1566.80,536.41 1567.30,533.51 1567.80,531.31 1568.30,529.81 1568.80,529.03 1569.10,528.90 1569.30,528.96 1569.80,529.62 1570.30,531.01 1570.80,533.12 1571.30,535.95 1571.80,539.48 1572.30,543.71 1572.80,548.61 1573.30,554.17 1573.80,560.37 1574.30,567.18 1574.80,574.58 1575.30,582.53 1575.80,591.02 1576.30,600.00 1576.80,609.44 1577.30,619.31 1577.80,629.57 1578.30,640.18 1578.80,651.10 1579.30,662.29 1579.80,673.71 1580.30,685.31 1580.80,697.05 1581.30,708.88 1581.80,720.76 1582.30,732.65 1582.80,744.49 1583.30,756.25 1583.80,767.88 1584.30,779.34 1584.80,790.58 1585.30,801.56 1585.80,812.23 1586.30,822.56 1586.80,832.52 1587.30,842.05 1587.80,851.13 1588.30,859.71 1588.80,867.78 1589.30,875.29 1589.80,882.22 1590.30,888.54 1590.80,894.23 1591.30,899.26 1591.80,903.63 1592.30,907.30 1592.80,910.27 1593.30,912.53 1593.80,914.06 1594.30,914.87 1594.60,915.00 1594.80,914.94 1595.30,914.26 1595.80,912.83 1596.30,910.66 1596.80,907.75 1597.30,904.12 1597.80,899.77 1598.30,894.73 1598.80,889.02 1599.30,882.66 1599.80,875.68 1600.30,868.10 1600.80,859.95 1601.30,851.26 1601.80,842.08 1602.30,832.43 1602.80,822.36 1603.30,811.91 1603.80,801.10 1604.30,790.00 1604.80,778.65 1605.30,767.08 1605.80,755.35 1606.30,743.50 1606.80,731.57 1607.30,719.63 1607.80,707.70 1608.30,695.85 1608.80,684.12 1609.30,672.55 1609.80,661.20 1610.30,650.10 1610.80,639.29 1611.30,628.84 1611.80,618.77 1612.30,609.12 1612.80,599.94 1613.30,591.25 1613.80,583.10 1614.30,575.52 1614.80,568.54 1615.30,562.18 1615.80,556.47 1616.30,551.43 1616.80,547.08 1617.30,543.45 1617.80,540.54 1618.30,538.37 1618.80,536.94 1619.30,536.26 1619.50,536.20 1619.80,536.35 1620.30,537.24 1620.80,538.94 1621.30,541.43 1621.80,544.72 1622.30,548.78 1622.80,553.60 1623.30,559.15 1623.80,565.41 1624.30,572.36 1624.80,579.96 1625.30,588.18 1625.80,596.99 1626.30,606.34 1626.80,616.20 1627.30,626.52 1627.80,637.26 1628.30,648.38 1628.80,659.81 1629.30,671.52 1629.80,683.45 1630.30,695.54 1630.80,707.76 1631.30,720.04 1631.80,732.33 1632.30,744.58 1632.80,756.73 1633.30,768.74 1633.80,780.54 1634.30,792.09 1634.80,803.33 1635.30,814.23 1635.80,824.72 1636.30,834.77 1636.80,844.33 1637.30,853.36 1637.80,861.82 1638.30,869.68 1638.80,876.89 1639.30,883.43 1639.80,889.27 1640.30,894.38 1640.80,898.75 1641.30,902.35 1641.80,905.16 1642.30,907.18 1642.80,908.39 1643.30,908.80 1643.80,908.38 1644.30,907.12 1644.80,905.02 1645.30,902.10 1645.80,898.37 1646.30,893.85 1646.80,888.55 1647.30,882.50 1647.80,875.74 1648.30,868.28 1648.80,860.16 1649.30,851.43 1649.80,842.12 1650.30,832.27 1650.80,821.93 1651.30,811.15 1651.80,799.97 1652.30,788.45 1652.80,776.64 1653.30,764.59 1653.80,752.36 1654.30,740.01 1654.80,727.59 1655.30,715.15 1655.80,702.77 1656.30,690.48 1656.80,678.36 1657.30,666.44 1657.80,654.80 1658.30,643.48 1658.80,632.53 1659.30,622.01 1659.80,611.96 1660.30,602.43 1660.80,593.46 1661.30,585.09 1661.80,577.37 1662.30,570.32 1662.80,563.98 1663.30,558.38 1663.80,553.54 1664.30,549.49 1664.80,546.25 1665.30,543.82 1665.80,542.22 1666.30,541.47 1666.50,541.40 1666.80,541.55 1667.30,542.47 1667.80,544.23 1668.30,546.81 1668.80,550.20 1669.30,554.39 1669.80,559.36 1670.30,565.08 1670.80,571.54 1671.30,578.69 1671.80,586.51 1672.30,594.95 1672.80,603.99 1673.30,613.58 1673.80,623.67 1674.30,634.22 1674.80,645.18 1675.30,656.50 1675.80,668.12 1676.30,680.00 1676.80,692.07 1677.30,704.28 1677.80,716.59 1678.30,728.91 1678.80,741.22 1679.30,753.43 1679.80,765.50 1680.30,777.38 1680.80,789.00 1681.30,800.32 1681.80,811.28 1682.30,821.83 1682.80,831.92 1683.30,841.51 1683.80,850.55 1684.30,858.99 1684.80,866.81 1685.30,873.96 1685.80,880.42 1686.30,886.14 1686.80,891.11 1687.30,895.30 1687.80,898.69 1688.30,901.27 1688.80,903.03 1689.30,903.95 1689.60,904.10 1689.80,904.03 1690.30,903.24 1690.80,901.57 1691.30,899.03 1691.80,895.63 1692.30,891.39 1692.80,886.34 1693.30,880.49 1693.80,873.87 1694.30,866.53 1694.80,858.48 1695.30,849.78 1695.80,840.46 1696.30,830.58 1696.80,820.17 1697.30,809.30 1697.80,798.00 1698.30,786.35 1698.80,774.40 1699.30,762.20 1699.80,749.82 1700.30,737.32 1700.80,724.75 1701.30,712.18 1701.80,699.68 1702.30,687.30 1702.80,675.10 1703.30,663.15 1703.80,651.50 1704.30,640.20 1704.80,629.33 1705.30,618.92 1705.80,609.04 1706.30,599.72 1706.80,591.02 1707.30,582.97 1707.80,575.63 1708.30,569.01 1708.80,563.16 1709.30,558.11 1709.80,553.87 1710.30,550.47 1710.80,547.93 1711.30,546.26 1711.80,545.47 1712.00,545.40 1712.30,545.57 1712.80,546.60 1713.30,548.57 1713.80,551.46 1714.30,555.26 1714.80,559.94 1715.30,565.49 1715.80,571.87 1716.30,579.05 1716.80,587.00 1717.30,595.66 1717.80,605.00 1718.30,614.96 1718.80,625.50 1719.30,636.55 1719.80,648.06 1720.30,659.97 1720.80,672.21 1721.30,684.72 1721.80,697.43 1722.30,710.28 1722.80,723.20 1723.30,736.12 1723.80,748.97 1724.30,761.68 1724.80,774.19 1725.30,786.43 1725.80,798.34 1726.30,809.85 1726.80,820.90 1727.30,831.44 1727.80,841.40 1728.30,850.74 1728.80,859.40 1729.30,867.35 1729.80,874.53 1730.30,880.91 1730.80,886.46 1731.30,891.14 1731.80,894.94 1732.30,897.83 1732.80,899.80 1733.30,900.83 1733.60,901.00 1733.80,900.93 1734.30,900.10 1734.80,898.37 1735.30,895.74 1735.80,892.22 1736.30,887.83 1736.80,882.60 1737.30,876.55 1737.80,869.71 1738.30,862.12 1738.80,853.81 1739.30,844.84 1739.80,835.24 1740.30,825.08 1740.80,814.39 1741.30,803.23 1741.80,791.67 1742.30,779.77 1742.80,767.57 1743.30,755.16 1743.80,742.59 1744.30,729.93 1744.80,717.24 1745.30,704.59 1745.80,692.04 1746.30,679.67 1746.80,667.53 1747.30,655.69 1747.80,644.20 1748.30,633.14 1748.80,622.55 1749.30,612.49 1749.80,603.01 1750.30,594.17 1750.80,586.01 1751.30,578.56 1751.80,571.88 1752.30,565.99 1752.80,560.92 1753.30,556.70 1753.80,553.36 1754.30,550.91 1754.80,549.36 1755.30,548.72 1755.80,549.03 1756.30,550.34 1756.80,552.67 1757.30,555.99 1757.80,560.28 1758.30,565.52 1758.80,571.68 1759.30,578.72 1759.80,586.60 1760.30,595.28 1760.80,604.70 1761.30,614.81 1761.80,625.56 1762.30,636.87 1762.80,648.69 1763.30,660.94 1763.80,673.56 1764.30,686.46 1764.80,699.58 1765.30,712.84 1765.80,726.17 1766.30,739.47 1766.80,752.69 1767.30,765.73 1767.80,778.53 1768.30,791.01 1768.80,803.09 1769.30,814.72 1769.80,825.81 1770.30,836.31 1770.80,846.16 1771.30,855.29 1771.80,863.65 1772.30,871.20 1772.80,877.89 1773.30,883.69 1773.80,888.55 1774.30,892.46 1774.80,895.38 1775.30,897.30 1775.80,898.22 1776.00,898.30 1776.30,898.13 1776.80,897.07 1777.30,895.05 1777.80,892.09 1778.30,888.20 1778.80,883.41 1779.30,877.73 1779.80,871.20 1780.30,863.86 1780.80,855.75 1781.30,846.91 1781.80,837.39 1782.30,827.24 1782.80,816.53 1783.30,805.30 1783.80,793.63 1784.30,781.57 1784.80,769.20 1785.30,756.58 1785.80,743.78 1786.30,730.87 1786.80,717.93 1787.30,705.02 1787.80,692.22 1788.30,679.60 1788.80,667.23 1789.30,655.17 1789.80,643.50 1790.30,632.27 1790.80,621.56 1791.30,611.41 1791.80,601.89 1792.30,593.05 1792.80,584.94 1793.30,577.60 1793.80,571.07 1794.30,565.39 1794.80,560.60 1795.30,556.71 1795.80,553.75 1796.30,551.73 1796.80,550.67 1797.10,550.50 1797.30,550.58 1797.80,551.47 1798.30,553.36 1798.80,556.22 1799.30,560.04 1799.80,564.81 1800.30,570.48 1800.80,577.04 1801.30,584.43 1801.80,592.63 1802.30,601.58 1802.80,611.23 1803.30,621.52 1803.80,632.40 1804.30,643.80 1804.80,655.66 1805.30,667.91 1805.80,680.48 1806.30,693.29 1806.80,706.28 1807.30,719.37 1807.80,732.47 1808.30,745.53 1808.80,758.46 1809.30,771.18 1809.80,783.63 1810.30,795.73 1810.80,807.42 1811.30,818.62 1811.80,829.27 1812.30,839.32 1812.80,848.69 1813.30,857.34 1813.80,865.22 1814.30,872.29 1814.80,878.50 1815.30,883.81 1815.80,888.20 1816.30,891.64 1816.80,894.11 1817.30,895.60 1817.80,896.10 1818.30,895.56 1818.80,893.94 1819.30,891.25 1819.80,887.52 1820.30,882.75 1820.80,876.99 1821.30,870.27 1821.80,862.63 1822.30,854.11 1822.80,844.78 1823.30,834.70 1823.80,823.91 1824.30,812.50 1824.80,800.54 1825.30,788.09 1825.80,775.24 1826.30,762.07 1826.80,748.66 1827.30,735.10 1827.80,721.47 1828.30,707.86 1828.80,694.35 1829.30,681.03 1829.80,667.98 1830.30,655.28 1830.80,643.02 1831.30,631.26 1831.80,620.10 1832.30,609.58 1832.80,599.79 1833.30,590.78 1833.80,582.61 1834.30,575.33 1834.80,568.99 1835.30,563.62 1835.80,559.26 1836.30,555.94 1836.80,553.68 1837.30,552.49 1837.60,552.30 1837.80,552.39 1838.30,553.38 1838.80,555.46 1839.30,558.62 1839.80,562.83 1840.30,568.08 1840.80,574.33 1841.30,581.53 1841.80,589.65 1842.30,598.63 1842.80,608.40 1843.30,618.92 1843.80,630.10 1844.30,641.89 1844.80,654.20 1845.30,666.96 1845.80,680.07 1846.30,693.47 1846.80,707.06 1847.30,720.76 1847.80,734.47 1848.30,748.11 1848.80,761.60 1849.30,774.84 1849.80,787.75 1850.30,800.24 1850.80,812.25 1851.30,823.68 1851.80,834.48 1852.30,844.56 1852.80,853.86 1853.30,862.33 1853.80,869.90 1854.30,876.54 1854.80,882.19 1855.30,886.82 1855.80,890.41 1856.30,892.92 1856.80,894.35 1857.20,894.70 1857.80,893.92 1858.30,892.08 1858.80,889.17 1859.30,885.22 1859.80,880.24 1860.30,874.26 1860.80,867.33 1861.30,859.49 1861.80,850.79 1862.30,841.29 1862.80,831.04 1863.30,820.11 1863.80,808.56 1864.30,796.48 1864.80,783.94 1865.30,771.02 1865.80,757.80 1866.30,744.37 1866.80,730.80 1867.30,717.20 1867.80,703.63 1868.30,690.20 1868.80,676.98 1869.30,664.06 1869.80,651.52 1870.30,639.44 1870.80,627.89 1871.30,616.96 1871.80,606.71 1872.30,597.21 1872.80,588.51 1873.30,580.67 1873.80,573.74 1874.30,567.76 1874.80,562.78 1875.30,558.83 1875.80,555.92 1876.30,554.08 1876.80,553.32 1877.30,553.66 1877.80,555.11 1878.30,557.66 1878.80,561.30 1879.30,566.00 1879.80,571.74 1880.30,578.47 1880.80,586.15 1881.30,594.73 1881.80,604.16 1882.30,614.37 1882.80,625.29 1883.30,636.86 1883.80,649.00 1884.30,661.63 1884.80,674.66 1885.30,688.01 1885.80,701.60 1886.30,715.33 1886.80,729.11 1887.30,742.86 1887.80,756.49 1888.30,769.89 1888.80,783.00 1889.30,795.71 1889.80,807.95 1890.30,819.64 1890.80,830.70 1891.30,841.06 1891.80,850.65 1892.30,859.40 1892.80,867.27 1893.30,874.20 1893.80,880.13 1894.30,885.05 1894.80,888.90 1895.30,891.67 1895.80,893.34 1896.30,893.90 1896.80,893.34 1897.30,891.66 1897.80,888.87 1898.30,885.00 1898.80,880.06 1899.30,874.09 1899.80,867.13 1900.30,859.22 1900.80,850.42 1901.30,840.79 1901.80,830.39 1902.30,819.28 1902.80,807.55 1903.30,795.27 1903.80,782.52 1904.30,769.38 1904.80,755.94 1905.30,742.30 1905.80,728.54 1906.30,714.75 1906.80,701.02 1907.30,687.45 1907.80,674.13 1908.30,661.13 1908.80,648.56 1909.30,636.48 1909.80,624.99 1910.30,614.16 1910.80,604.06 1911.30,594.75 1911.80,586.31 1912.30,578.77 1912.80,572.20 1913.30,566.64 1913.80,562.12 1914.30,558.68 1914.80,556.34 1915.30,555.10 1915.60,554.90 1915.80,554.99 1916.30,556.05 1916.80,558.28 1917.30,561.67 1917.80,566.18 1918.30,571.79 1918.80,578.46 1919.30,586.15 1919.80,594.80 1920.30,604.34 1920.80,614.72 1921.30,625.86 1921.80,637.68 1922.30,650.10 1922.80,663.03 1923.30,676.39 1923.80,690.08 1924.30,704.00 1924.80,718.06 1925.30,732.16 1925.80,746.20 1926.30,760.08 1926.80,773.71 1927.30,786.99 1927.80,799.83 1928.30,812.14 1928.80,823.83 1929.30,834.82 1929.80,845.04 1930.30,854.41 1930.80,862.87 1931.30,870.35 1931.80,876.82 1932.30,882.21 1932.80,886.50 1933.30,889.66 1933.80,891.65 1934.30,892.48 1934.80,892.09 1935.30,890.45 1935.80,887.54 1936.30,883.41 1936.80,878.07 1937.30,871.58 1937.80,863.97 1938.30,855.30 1938.80,845.65 1939.30,835.08 1939.80,823.67 1940.30,811.51 1940.80,798.69 1941.30,785.30 1941.80,771.46 1942.30,757.25 1942.80,742.79 1943.30,728.19 1943.80,713.56 1944.30,699.00 1944.80,684.63 1945.30,670.56 1945.80,656.88 1946.30,643.71 1946.80,631.14 1947.30,619.27 1947.80,608.19 1948.30,597.98 1948.80,588.71 1949.30,580.46 1949.80,573.29 1950.30,567.25 1950.80,562.39 1951.30,558.75 1951.80,556.34 1952.30,555.20 1952.50,555.10 1952.80,555.33 1953.30,556.71 1953.80,559.33 1954.30,563.18 1954.80,568.22 1955.30,574.42 1955.80,581.74 1956.30,590.11 1956.80,599.48 1957.30,609.77 1957.80,620.91 1958.30,632.82 1958.80,645.40 1959.30,658.57 1959.80,672.22 1960.30,686.26 1960.80,700.58 1961.30,715.07 1961.80,729.62 1962.30,744.13 1962.80,758.49 1963.30,772.60 1963.80,786.34 1964.30,799.61 1964.80,812.32 1965.30,824.37 1965.80,835.67 1966.30,846.14 1966.80,855.69 1967.30,864.27 1967.80,871.80 1968.30,878.23 1968.80,883.51 1969.30,887.60 1969.80,890.47 1970.30,892.10 1970.70,892.50 1971.30,891.61 1971.80,889.50 1972.30,886.18 1972.80,881.67 1973.30,875.99 1973.80,869.20 1974.30,861.33 1974.80,852.46 1975.30,842.64 1975.80,831.94 1976.30,820.45 1976.80,808.25 1977.30,795.43 1977.80,782.08 1978.30,768.31 1978.80,754.21 1979.30,739.89 1979.80,725.45 1980.30,711.00 1980.80,696.64 1981.30,682.49 1981.80,668.64 1982.30,655.20 1982.80,642.27 1983.30,629.94 1983.80,618.30 1984.30,607.44 1984.80,597.43 1985.30,588.36 1985.80,580.29 1986.30,573.28 1986.80,567.38 1987.30,562.62 1987.80,559.06 1988.30,556.72 1988.80,555.60 1989.00,555.50 1989.30,555.75 1989.80,557.25 1990.30,560.11 1990.80,564.30 1991.30,569.80 1991.80,576.54 1992.30,584.48 1992.80,593.56 1993.30,603.70 1993.80,614.81 1994.30,626.81 1994.80,639.60 1995.30,653.07 1995.80,667.12 1996.30,681.64 1996.80,696.49 1997.30,711.56 1997.80,726.74 1998.30,741.89 1998.80,756.89 1999.30,771.62 1999.80,785.96 2000.30,799.79 2000.80,813.00 2001.30,825.49 2001.80,837.15 2002.30,847.88 2002.80,857.60 2003.30,866.23 2003.80,873.70 2004.30,879.95 2004.80,884.93 2005.30,888.59 2005.80,890.91 2006.30,891.87 2006.80,891.50 2007.30,889.85 2007.80,886.97 2008.30,882.85 2008.80,877.54 2009.30,871.07 2009.80,863.49 2010.30,854.87 2010.80,845.26 2011.30,834.73 2011.80,823.37 2012.30,811.27 2012.80,798.50 2013.30,785.18 2013.80,771.39 2014.30,757.25 2014.80,742.86 2015.30,728.32 2015.80,713.75 2016.30,699.26 2016.80,684.96 2017.30,670.94 2017.80,657.33 2018.30,644.22 2018.80,631.71 2019.30,619.89 2019.80,608.85 2020.30,598.68 2020.80,589.46 2021.30,581.25 2021.80,574.11 2022.30,568.10 2022.80,563.26 2023.30,559.63 2023.80,557.24 2024.30,556.10 2024.50,556.00 2024.80,556.27 2025.30,557.89 2025.80,560.99 2026.30,565.52 2026.80,571.44 2027.30,578.72 2027.80,587.27 2028.30,597.03 2028.80,607.91 2029.30,619.81 2029.80,632.63 2030.30,646.25 2030.80,660.56 2031.30,675.42 2031.80,690.71 2032.30,706.29 2032.80,722.02 2033.30,737.77 2033.80,753.39 2034.30,768.75 2034.80,783.71 2035.30,798.14 2035.80,811.91 2036.30,824.90 2036.80,836.99 2037.30,848.08 2037.80,858.07 2038.30,866.87 2038.80,874.41 2039.30,880.61 2039.80,885.42 2040.30,888.80 2040.80,890.73 2041.20,891.20 2041.80,890.24 2042.30,887.99 2042.80,884.43 2043.30,879.59 2043.80,873.52 2044.30,866.26 2044.80,857.86 2045.30,848.40 2045.80,837.95 2046.30,826.59 2046.80,814.42 2047.30,801.53 2047.80,788.02 2048.30,774.00 2048.80,759.58 2049.30,744.88 2049.80,730.02 2050.30,715.10 2050.80,700.26 2051.30,685.61 2051.80,671.26 2052.30,657.34 2052.80,643.94 2053.30,631.19 2053.80,619.17 2054.30,607.99 2054.80,597.73 2055.30,588.47 2055.80,580.30 2056.30,573.27 2056.80,567.44 2057.30,562.86 2057.80,559.56 2058.30,557.57 2058.80,556.90 2059.30,557.64 2059.80,559.85 2060.30,563.52 2060.80,568.61 2061.30,575.07 2061.80,582.85 2062.30,591.88 2062.80,602.08 2063.30,613.37 2063.80,625.63 2064.30,638.76 2064.80,652.65 2065.30,667.18 2065.80,682.20 2066.30,697.60 2066.80,713.24 2067.30,728.97 2067.80,744.66 2068.30,760.17 2068.80,775.36 2069.30,790.11 2069.80,804.26 2070.30,817.71 2070.80,830.34 2071.30,842.03 2071.80,852.67 2072.30,862.18 2072.80,870.47 2073.30,877.47 2073.80,883.11 2074.30,887.35 2074.80,890.15 2075.30,891.48 2075.80,891.36 2076.30,889.88 2076.80,887.07 2077.30,882.95 2077.80,877.56 2078.30,870.94 2078.80,863.13 2079.30,854.21 2079.80,844.25 2080.30,833.33 2080.80,821.52 2081.30,808.94 2081.80,795.68 2082.30,781.84 2082.80,767.54 2083.30,752.90 2083.80,738.03 2084.30,723.05 2084.80,708.08 2085.30,693.25 2085.80,678.66 2086.30,664.45 2086.80,650.72 2087.30,637.59 2087.80,625.15 2088.30,613.52 2088.80,602.78 2089.30,593.02 2089.80,584.31 2090.30,576.74 2090.80,570.36 2091.30,565.22 2091.80,561.36 2092.30,558.82 2092.80,557.61 2093.30,557.77 2093.80,559.43 2094.30,562.57 2094.80,567.17 2095.30,573.19 2095.80,580.58 2096.30,589.26 2096.80,599.16 2097.30,610.19 2097.80,622.25 2098.30,635.23 2098.80,649.01 2099.30,663.47 2099.80,678.47 2100.30,693.88 2100.80,709.57 2101.30,725.38 2101.80,741.18 2102.30,756.83 2102.80,772.17 2103.30,787.07 2103.80,801.41 2104.30,815.04 2104.80,827.84 2105.30,839.70 2105.80,850.51 2106.30,860.18 2106.80,868.61 2107.30,875.72 2107.80,881.46 2108.30,885.78 2108.80,888.63 2109.30,889.98 2109.80,889.84 2110.30,888.26 2110.80,885.27 2111.30,880.88 2111.80,875.13 2112.30,868.08 2112.80,859.78 2113.30,850.31 2113.80,839.74 2114.30,828.18 2114.80,815.71 2115.30,802.45 2115.80,788.51 2116.30,774.01 2116.80,759.08 2117.30,743.85 2117.80,728.44 2118.30,712.99 2118.80,697.63 2119.30,682.50 2119.80,667.73 2120.30,653.44 2120.80,639.76 2121.30,626.80 2121.80,614.68 2122.30,603.51 2122.80,593.37 2123.30,584.36 2123.80,576.55 2124.30,570.01 2124.80,564.80 2125.30,560.96 2125.80,558.53 2126.30,557.53 2126.80,558.01 2127.30,560.07 2127.80,563.69 2128.30,568.85 2128.80,575.48 2129.30,583.53 2129.80,592.91 2130.30,603.55 2130.80,615.32 2131.30,628.13 2131.80,641.85 2132.30,656.35 2132.80,671.48 2133.30,687.10 2133.80,703.06 2134.30,719.21 2134.80,735.39 2135.30,751.45 2135.80,767.22 2136.30,782.57 2136.80,797.34 2137.30,811.38 2137.80,824.57 2138.30,836.77 2138.80,847.88 2139.30,857.78 2139.80,866.37 2140.30,873.58 2140.80,879.33 2141.30,883.57 2141.80,886.26 2142.30,887.37 2142.80,886.93 2143.30,885.04 2143.80,881.70 2144.30,876.95 2144.80,870.84 2145.30,863.42 2145.80,854.75 2146.30,844.91 2146.80,834.00 2147.30,822.11 2147.80,809.35 2148.30,795.83 2148.80,781.68 2149.30,767.03 2149.80,752.01 2150.30,736.75 2150.80,721.39 2151.30,706.08 2151.80,690.94 2152.30,676.12 2152.80,661.76 2153.30,647.98 2153.80,634.90 2154.30,622.65 2154.80,611.33 2155.30,601.05 2155.80,591.91 2156.30,583.98 2156.80,577.33 2157.30,572.03 2157.80,568.13 2158.30,565.65 2158.80,564.63 2159.30,565.10 2159.80,567.14 2160.30,570.73 2160.80,575.83 2161.30,582.38 2161.80,590.33 2162.30,599.59 2162.80,610.07 2163.30,621.66 2163.80,634.25 2164.30,647.70 2164.80,661.89 2165.30,676.66 2165.80,691.87 2166.30,707.36 2166.80,722.98 2167.30,738.56 2167.80,753.96 2168.30,769.01 2168.80,783.57 2169.30,797.48 2169.80,810.60 2170.30,822.80 2170.80,833.96 2171.30,843.96 2171.80,852.71 2172.30,860.11 2172.80,866.09 2173.30,870.59 2173.80,873.56 2174.30,874.97 2174.80,874.86 2175.30,873.43 2175.80,870.70 2176.30,866.70 2176.80,861.47 2177.30,855.05 2177.80,847.51 2178.30,838.91 2178.80,829.33 2179.30,818.86 2179.80,807.59 2180.30,795.62 2180.80,783.06 2181.30,770.02 2181.80,756.64 2182.30,743.01 2182.80,729.27 2183.30,715.55 2183.80,701.96 2184.30,688.64 2184.80,675.69 2185.30,663.24 2185.80,651.40 2186.30,640.28 2186.80,629.98 2187.30,620.59 2187.80,612.19 2188.30,604.87 2188.80,598.69 2189.30,593.70 2189.80,589.95 2190.30,587.48 2190.80,586.30 2191.30,586.43 2191.80,587.86 2192.30,590.56 2192.80,594.51 2193.30,599.68 2193.80,606.00 2194.30,613.41 2194.80,621.85 2195.30,631.21 2195.80,641.40 2196.30,652.33 2196.80,663.87 2197.30,675.91 2197.80,688.33 2198.30,701.00 2198.80,713.78 2199.30,726.55 2199.80,739.18 2200.30,751.53 2200.80,763.48 2201.30,774.91 2201.80,785.70 2202.30,795.74 2202.80,804.92 2203.30,813.15 2203.80,820.36 2204.30,826.45 2204.80,831.38 2205.30,835.08 2205.80,837.53 2206.30,838.70 2206.80,838.61 2207.30,837.48 2207.80,835.34 2208.30,832.19 2208.80,828.09 2209.30,823.07 2209.80,817.18 2210.30,810.49 2210.80,803.06 2211.30,794.97 2211.80,786.30 2212.30,777.16 2212.80,767.62 2213.30,757.79 2213.80,747.78 2214.30,737.68 2214.80,727.60 2215.30,717.65 2215.80,707.93 2216.30,698.53 2216.80,689.57 2217.30,681.12 2217.80,673.29 2218.30,666.14 2218.80,659.76 2219.30,654.22 2219.80,649.56 2220.30,645.83 2220.80,643.08 2221.30,641.34 2221.80,640.62 2222.30,640.84 2222.80,641.82 2223.30,643.53 2223.80,645.97 2224.30,649.10 2224.80,652.88 2225.30,657.28 2225.80,662.24 2226.30,667.72 2226.80,673.64 2227.30,679.94 2227.80,686.56 2228.30,693.41 2228.80,700.41 2229.30,707.50 2229.80,714.59 2230.30,721.59 2230.80,728.44 2231.30,735.06 2231.80,741.36 2232.30,747.28 2232.80,752.76 2233.30,757.72 2233.80,762.12 2234.30,765.90 2234.80,769.03 2235.30,771.47 2235.80,773.18 2236.30,774.16 2236.70,774.40 2237.30,774.08 2237.80,773.34 2238.30,772.16 2238.80,770.57 2239.30,768.59 2239.80,766.23 2240.30,763.53 2240.80,760.52 2241.30,757.22 2241.80,753.69 2242.30,749.96 2242.80,746.07 2243.30,742.08 2243.80,738.02 2244.30,733.95 2244.80,729.91 2245.30,725.96 2245.80,722.13 2246.30,718.47 2246.80,715.03 2247.30,711.84 2247.80,708.95 2248.30,706.38 2248.80,704.17 2249.30,702.34 2249.80,700.92 2250.30,699.91 2250.80,699.34 2251.20,699.20 2251.80,699.37 2252.30,699.77 2252.80,700.41 2253.30,701.26 2253.80,702.32 2254.30,703.58 2254.80,705.02 2255.30,706.62 2255.80,708.35 2256.30,710.19 2256.80,712.13 2257.30,714.12 2257.80,716.14 2258.30,718.17 2258.80,720.18 2259.30,722.14 2259.80,724.03 2260.30,725.81 2260.80,727.46 2261.30,728.96 2261.80,730.29 2262.30,731.44 2262.80,732.38 2263.30,733.10 2263.80,733.60 2264.30,733.86 2264.60,733.90 2264.80,733.89 2265.30,733.79 2265.80,733.59 2266.30,733.29 2266.80,732.89 2267.30,732.39 2267.80,731.82 2268.30,731.17 2268.80,730.45 2269.30,729.69 2269.80,728.88 2270.30,728.05 2270.80,727.20 2271.30,726.35 2271.80,725.52 2272.30,724.71 2272.80,723.95 2273.30,723.23 2273.80,722.58 2274.30,722.01 2274.80,721.51 2275.30,721.11 2275.80,720.81 2276.30,720.61 2276.80,720.51 2277.30,720.51 2277.80,720.57 2278.30,720.67 2278.80,720.83 2279.30,721.03 2279.80,721.27 2280.30,721.55 2280.80,721.86 2281.30,722.19 2281.80,722.54 2282.30,722.90 2282.80,723.27 2283.30,723.63 2283.80,723.98 2284.30,724.30 2284.80,724.61 2285.30,724.88 2285.80,725.11 2286.30,725.31 2286.80,725.45 2287.30,725.55 2287.80,725.60 2288.30,725.60 2288.80,725.57 2289.30,725.53 2289.80,725.47 2290.30,725.39 2290.80,725.30 2291.30,725.19 2291.80,725.07 2292.30,724.93 2292.80,724.80 2293.30,724.65 2293.80,724.51 2294.30,724.36 2294.80,724.22 2295.30,724.09 2295.80,723.96 2296.30,723.84 2296.80,723.74 2297.30,723.66 2297.80,723.59 2298.30,723.54 2298.80,723.51 2299.30,723.50 2299.80,723.50 2300.30,723.52 2300.80,723.54 2301.30,723.57 2301.80,723.60 2302.30,723.64 2302.80,723.69 2303.30,723.74 2303.80,723.79 2304.30,723.84 2304.80,723.90 2305.30,723.95 2305.80,724.00 2306.30,724.05 2306.80,724.09 2307.30,724.13 2307.80,724.16 2308.30,724.18 2308.80,724.19 2309.30,724.20 2309.80,724.20 2310.30,724.19 2310.80,724.19 2311.30,724.18 2311.80,724.16 2312.30,724.15 2312.80,724.13 2313.30,724.11 2313.80,724.09 2314.30,724.07 2314.80,724.05 2315.30,724.02 2315.80,724.00 2316.30,723.98 2316.80,723.96 2317.30,723.95 2317.80,723.93 2318.30,723.92 2318.80,723.91 2319.30,723.90 2319.80,723.90 2320.30,723.90 2437.80,723.90" fill="none" stroke="#0000ff" stroke-width="5.0" stroke-linejoin="round" stroke-linecap="butt"/>
<path d="M1276.15,1057.6 V123.2" stroke="#d62728" stroke-width="5.0" fill="none"/>
</g>
<text transform="translate(0,1179.50) scale(1,0.985)" font-size="88.5"><tspan x="476.43" dy="2.89" font-size="75.13" textLength="63.93" lengthAdjust="spacingAndGlyphs">−</tspan><tspan x="541.48" dy="-2.89" textLength="85.76" lengthAdjust="spacingAndGlyphs">60</tspan></text>
<text transform="translate(0,1179.50) scale(1,0.985)" font-size="88.5"><tspan x="753.77" dy="2.89" font-size="75.13" textLength="63.45" lengthAdjust="spacingAndGlyphs">−</tspan><tspan x="818.70" dy="-2.89" textLength="85.12" lengthAdjust="spacingAndGlyphs">40</tspan></text>
<text transform="translate(0,1179.50) scale(1,0.985)" font-size="88.5"><tspan x="1030.97" dy="2.89" font-size="75.13" textLength="63.45" lengthAdjust="spacingAndGlyphs">−</tspan><tspan x="1095.38" dy="-2.89" textLength="85.76" lengthAdjust="spacingAndGlyphs">20</tspan></text>
<text transform="translate(0,1179.50) scale(1,0.985)" font-size="88.5"><tspan x="1359.92" dy="0.00" textLength="43.36" lengthAdjust="spacingAndGlyphs">0</tspan></text>
<text transform="translate(0,1179.50) scale(1,0.985)" font-size="88.5"><tspan x="1614.64" dy="0.00" textLength="86.85" lengthAdjust="spacingAndGlyphs">20</tspan></text>
<text transform="translate(0,1179.50) scale(1,0.985)" font-size="88.5"><tspan x="1894.01" dy="0.00" textLength="84.38" lengthAdjust="spacingAndGlyphs">40</tspan></text>
<text transform="translate(0,1179.50) scale(1,0.985)" font-size="88.5"><tspan x="2170.28" dy="0.00" textLength="85.76" lengthAdjust="spacingAndGlyphs">60</tspan></text>
<text transform="translate(0,219.00) scale(1,1.0)" font-size="88.5"><tspan x="220.20" dy="0.00" textLength="42.52" lengthAdjust="spacingAndGlyphs">4</tspan></text>
<text transform="translate(0,485.10) scale(1,0.98)" font-size="88.5"><tspan x="218.86" dy="0.00" textLength="47.75" lengthAdjust="spacingAndGlyphs">2</tspan></text>
<text transform="translate(0,752.80) scale(1,0.985)" font-size="88.5"><tspan x="220.72" dy="0.00" textLength="43.36" lengthAdjust="spacingAndGlyphs">0</tspan></text>
<text transform="translate(0,1016.10) scale(1,0.98)" font-size="88.5"><tspan x="155.32" dy="2.80" font-size="75.51" textLength="64.06" lengthAdjust="spacingAndGlyphs">−</tspan><tspan x="218.87" dy="-2.80" textLength="47.63" lengthAdjust="spacingAndGlyphs">2</tspan></text>
<text class="nl" transform="scale(1.04,1)" y="1305.3" x="1000.0 1053.0 1091.8 1132.7 1177.1 1221.6 1245.3 1284.6 1330.7 1376.2 1402.3 1434.1 1466.0 1496.1 1526.3 1555.6 1623.8" font-size="87.5">Beam length x [m]</text>
<text class="nl" transform="translate(80.0,850.7) rotate(-90) scale(1.04,1)" y="0" x="-2.2 58.4 95.7 122.8 144.9 182.2 219.8 244.6 267.8 313.8 346.0 378.2 407.6 475.8" font-size="87.5">Deflection [m]</text>
<text transform="translate(0,85.9)" font-size="87.7"><tspan x="360.25" dy="12.79" font-size="103.03" textLength="58.87" lengthAdjust="spacingAndGlyphs">×</tspan><tspan x="421.37" dy="-12.79" textLength="86.92" lengthAdjust="spacingAndGlyphs">10</tspan><tspan x="508.85" dy="-25.94" font-size="62.00" textLength="49.07" lengthAdjust="spacingAndGlyphs">−</tspan><tspan x="557.98" dy="-3.76" font-size="67.00" textLength="63.55" lengthAdjust="spacingAndGlyphs">11</tspan></text>
</svg></body></html>
